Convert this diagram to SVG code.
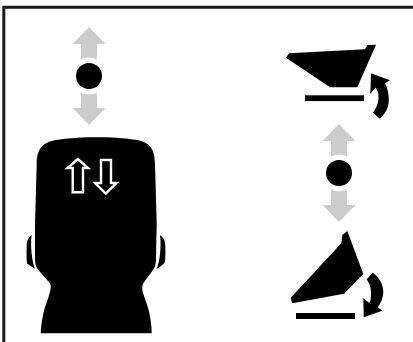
<svg xmlns="http://www.w3.org/2000/svg" width="413" height="342" viewBox="0 0 413 342">
<defs>
<path id="dbl" d="M0,-49 L16.500,-32 L8,-32 L8,-16.500 A18,18 0 0 0 -8,-16.500 L-8,-32 L-16.500,-32 Z M-8,16.500 A18,18 0 0 0 8,16.500 L8,32 L16.500,32 L0,49 L-16.500,32 L-8,32 Z" fill="#cccccc"/>
<style>.k{fill:#000000}.w{fill:none;stroke:#ffffff;stroke-width:2.400}</style>
</defs>
<rect width="413" height="342" fill="#ffffff"/>
<path d="M413,7.300 L3.800,7.300 L3.800,342" fill="none" stroke="#1a1a1a" stroke-width="3"/>
<g id="connectors"/>
<g id="head">
<path class="k" d="M36.700,165 C36.700,149 42,142.500 56,140 C72,137.800 84,137.300 96.700,137.300 C110,137.300 122,137.800 137,140 C150,142.500 155,149 155,165 L156.700,223 L156,258 C156,264 155,267 153,270 L143.300,283.300 C142,286 142,289 142.700,291.700 C145,300 149,308 150,316.700 C151,322 151.700,328 151.700,333.300 L40.700,333.300 C41,328 41.500,322 42.700,316.700 C44,308 48,300 50,291.700 C51,289 51,286 50,283.300 L38.300,270 C36,267 35,264 35,258 L35,223 Z"/>
<path class="k" d="M31.700,235 C28,238 26.700,241 26.700,246 C26.500,252 26.500,258 27,263.500 L35,268.700 C32,262 30,245 31.700,235 Z"/>
<path class="k" d="M160,235 C164,238 165.300,241 165.300,246 C165.500,252 165.500,257 165,261.700 C163,265 160,267 156.700,268.700 C160,262 161.500,245 160,235 Z"/>
<path class="w" d="M77.800,159 L88,168 L83,168 L83,192.300 L72.700,192.300 L72.700,168 L67.500,168 Z"/>
<path class="w" d="M101,160 L111,160 L111,183 L116.500,183 L105.800,193.500 L95,183 L101,183 Z"/>
</g>
<g id="adjust-left"><use href="#dbl" x="89" y="76"/><circle cx="89" cy="76" r="13" class="k"/></g>
<g id="adjust-right"><use href="#dbl" x="339" y="173"/><circle cx="339" cy="173" r="13" class="k"/></g>
<g id="seat-up">
<path class="k" d="M286,57.700 L289,53.300 L365,49.300 L367.300,45 L376,44.700 L357.300,87.300 L330,87.300 Z"/>
<rect class="k" x="305" y="95.300" width="59" height="5.800"/>
<path class="k" d="M371,73.300 L390,80.300 L385,83.300 C388.500,90 389.500,99 388.500,104 C387.500,110 384.500,114 380,118.700 L373,112.700 C375.500,109 378,105 378.500,99 C378.800,94 378,90 375.500,87.500 L370.300,94 Z"/>
</g>
<g id="seat-down">
<path class="k" d="M347.300,231 L342.300,235 L341.300,243.300 L290.700,297.700 L292.300,303.300 L344,293.700 L363.300,274 Z"/>
<rect class="k" x="296" y="313" width="59" height="6"/>
<path class="k" d="M372.700,272.700 L366.700,279.300 C369,283 371,287 371,292 C371,297 370.800,300.500 369.500,303 L363.300,298.300 L363.700,317.300 L382.300,310.700 L377.800,307.300 C381.500,302 383.300,297 383.300,292 C383.300,284 379,277 372.700,272.700 Z"/>
</g>
</svg>
